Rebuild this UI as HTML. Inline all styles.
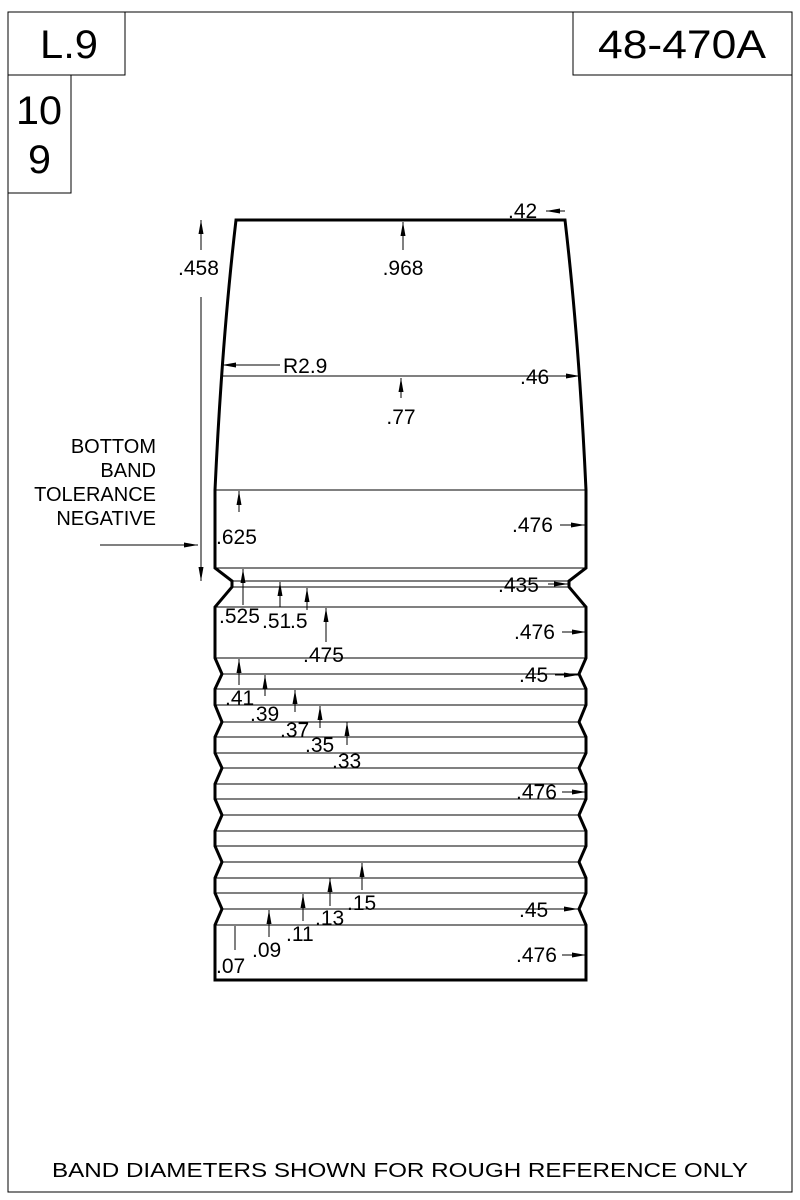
<!DOCTYPE html>
<html><head><meta charset="utf-8"><style>
html,body{margin:0;padding:0;background:#fff}
svg{display:block}
text{font-family:"Liberation Sans",Arial,sans-serif;fill:#000}
</style></head><body>
<svg width="800" height="1200" viewBox="0 0 800 1200" xmlns="http://www.w3.org/2000/svg">
<defs>
<marker id="a" viewBox="0 0 14 5" refX="14" refY="2.5" markerWidth="14" markerHeight="5" markerUnits="userSpaceOnUse" orient="auto"><path d="M0,0 L14,2.5 L0,5 z" fill="#000"/></marker>
</defs>
<g fill="none" stroke="#000" stroke-width="1">
<rect x="8" y="12" width="784" height="1180"/>
<rect x="8" y="12" width="117" height="63"/>
<rect x="573" y="12" width="219" height="63"/>
<rect x="8" y="75" width="63" height="118"/>
</g>
<text x="40" y="58" font-size="40" textLength="58" lengthAdjust="spacingAndGlyphs">L.9</text>
<text x="598" y="58" font-size="40" textLength="168" lengthAdjust="spacingAndGlyphs">48-470A</text>
<text x="16" y="124" font-size="40" textLength="46" lengthAdjust="spacingAndGlyphs">10</text>
<text x="28" y="173" font-size="40" textLength="23" lengthAdjust="spacingAndGlyphs">9</text>

<path d="M236,220 Q222,340 215,490 L215,568 L232,581 L232,587 L215,607 L215,658 L222,674 L215,689 L215,705 L222,722 L215,737 L215,753 L222,768 L215,784 L215,799 L222,815 L215,831 L215,846 L222,862 L215,878 L215,893 L222,909 L215,925 L215,980 L586,980 L586,925 L579,909 L586,893 L586,878 L579,862 L586,846 L586,831 L579,815 L586,799 L586,784 L579,768 L586,753 L586,737 L579,722 L586,705 L586,689 L579,674 L586,658 L586,607 L569,587 L569,581 L586,568 L586,490 Q579,340 565,220 Z" fill="none" stroke="#000" stroke-width="3" stroke-linejoin="miter"/>

<g stroke="#000" stroke-width="1">
<line x1="221" y1="376" x2="580" y2="376"/>
<line x1="215" y1="490" x2="586" y2="490"/>
<line x1="215" y1="568" x2="586" y2="568"/>
<line x1="232" y1="581" x2="569" y2="581"/>
<line x1="232" y1="587" x2="569" y2="587"/>
<line x1="215" y1="607" x2="586" y2="607"/>
<line x1="215" y1="658" x2="586" y2="658"/>
<line x1="222" y1="674" x2="579" y2="674"/>
<line x1="215" y1="689" x2="586" y2="689"/>
<line x1="215" y1="705" x2="586" y2="705"/>
<line x1="222" y1="722" x2="579" y2="722"/>
<line x1="215" y1="737" x2="586" y2="737"/>
<line x1="215" y1="753" x2="586" y2="753"/>
<line x1="222" y1="768" x2="579" y2="768"/>
<line x1="215" y1="784" x2="586" y2="784"/>
<line x1="215" y1="799" x2="586" y2="799"/>
<line x1="222" y1="815" x2="579" y2="815"/>
<line x1="215" y1="831" x2="586" y2="831"/>
<line x1="215" y1="846" x2="586" y2="846"/>
<line x1="222" y1="862" x2="579" y2="862"/>
<line x1="215" y1="878" x2="586" y2="878"/>
<line x1="215" y1="893" x2="586" y2="893"/>
<line x1="222" y1="909" x2="579" y2="909"/>
<line x1="215" y1="925" x2="586" y2="925"/>
</g>

<g stroke="#000" stroke-width="1" marker-end="url(#a)">
<line x1="565" y1="211" x2="546" y2="211"/>
<line x1="403" y1="250" x2="403" y2="222"/>
<line x1="201" y1="250" x2="201" y2="220"/>
<line x1="201" y1="297" x2="201" y2="581"/>
<line x1="100" y1="545" x2="198" y2="545"/>
<line x1="280" y1="365" x2="222" y2="365"/>
<line x1="558" y1="376" x2="580" y2="376"/>
<line x1="401" y1="398" x2="401" y2="378"/>
<line x1="239" y1="512" x2="239" y2="491"/>
<line x1="560" y1="525" x2="585" y2="525"/>
<line x1="548" y1="584" x2="568" y2="584"/>
<line x1="243" y1="605" x2="243" y2="569"/>
<line x1="280" y1="607" x2="280" y2="582"/>
<line x1="307" y1="610" x2="307" y2="588"/>
<line x1="326" y1="642" x2="326" y2="608"/>
<line x1="562" y1="632" x2="586" y2="632"/>
<line x1="555" y1="675" x2="578" y2="675"/>
<line x1="239" y1="685" x2="239" y2="659"/>
<line x1="265" y1="696" x2="265" y2="675"/>
<line x1="295" y1="712" x2="295" y2="690"/>
<line x1="320" y1="728" x2="320" y2="706"/>
<line x1="347" y1="745" x2="347" y2="722"/>
<line x1="562" y1="792" x2="586" y2="792"/>
<line x1="362" y1="890" x2="362" y2="863"/>
<line x1="330" y1="906" x2="330" y2="878"/>
<line x1="303" y1="921" x2="303" y2="894"/>
<line x1="269" y1="937" x2="269" y2="910"/>
<line x1="555" y1="909" x2="578" y2="909"/>
<line x1="562" y1="955" x2="586" y2="955"/>
</g>
<line x1="235" y1="926" x2="235" y2="950" stroke="#000" stroke-width="1"/>

<g font-size="21">
<text x="508" y="218">.42</text>
<text x="403" y="275" text-anchor="middle">.968</text>
<text x="178" y="275">.458</text>
<text x="283" y="373">R2.9</text>
<text x="520" y="384">.46</text>
<text x="401" y="424" text-anchor="middle">.77</text>
<text x="216" y="544">.625</text>
<text x="512" y="532">.476</text>
<text x="498" y="592">.435</text>
<text x="219" y="623">.525</text>
<text x="262" y="628">.51</text>
<text x="290" y="628">.5</text>
<text x="303" y="662">.475</text>
<text x="514" y="639">.476</text>
<text x="519" y="682">.45</text>
<text x="225" y="705">.41</text>
<text x="250" y="721">.39</text>
<text x="280" y="737">.37</text>
<text x="305" y="752">.35</text>
<text x="332" y="768">.33</text>
<text x="516" y="799">.476</text>
<text x="347" y="910">.15</text>
<text x="315" y="925">.13</text>
<text x="286" y="941">.11</text>
<text x="252" y="957">.09</text>
<text x="216" y="973">.07</text>
<text x="519" y="917">.45</text>
<text x="516" y="962">.476</text>
</g>
<g font-size="20" text-anchor="end">
<text x="156" y="453">BOTTOM</text>
<text x="156" y="477">BAND</text>
<text x="156" y="501">TOLERANCE</text>
<text x="156" y="525">NEGATIVE</text>
</g>
<text x="52" y="1177" font-size="20" textLength="696" lengthAdjust="spacingAndGlyphs">BAND DIAMETERS SHOWN FOR ROUGH REFERENCE ONLY</text>
</svg>
</body></html>
